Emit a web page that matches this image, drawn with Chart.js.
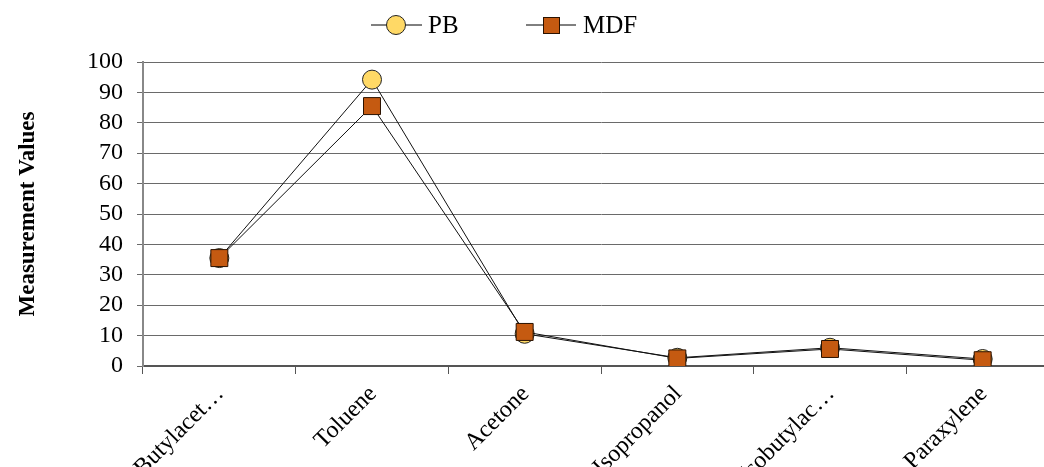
<!DOCTYPE html>
<html>
<head>
<meta charset="utf-8">
<script src="https://cdn.jsdelivr.net/npm/chart.js@4.4.1/dist/chart.umd.min.js"></script>
<style>
  html, body { margin: 0; padding: 0; background: #fff; overflow: hidden; }
  #wrap { position: relative; width: 1080px; height: 467px; }
</style>
</head>
<body>
<div id="wrap"><canvas id="lineChart"></canvas></div>
<script>
const categories = ['nButylacet…', 'Toluene', 'Acetone', 'Isopropanol', 'Isobutylac…', 'Paraxylene'];
const pbValues = [35.5, 94.2, 10.6, 2.7, 6.0, 2.3];
const mdfValues = [35.5, 85.5, 11.2, 2.5, 5.6, 1.9];
const yTicks = [0, 10, 20, 30, 40, 50, 60, 70, 80, 90, 100];

const serif = "'Liberation Serif', 'Times New Roman', serif";
const pbFill = '#FFD966';
const mdfFill = '#C55A11';

// legend drawn by hand so it can sit where the original one is
const legendPlugin = {
  id: 'sideLegend',
  afterDraw(chart) {
    const ctx = chart.ctx;
    ctx.save();
    ctx.strokeStyle = '#000';
    ctx.lineWidth = 1;
    // PB
    ctx.beginPath(); ctx.moveTo(371, 25); ctx.lineTo(422, 25); ctx.stroke();
    ctx.beginPath(); ctx.arc(396, 25, 9.5, 0, Math.PI * 2);
    ctx.fillStyle = pbFill; ctx.fill(); ctx.strokeStyle = '#222'; ctx.stroke();
    // MDF
    ctx.strokeStyle = '#000';
    ctx.beginPath(); ctx.moveTo(526, 25); ctx.lineTo(576, 25); ctx.stroke();
    ctx.fillStyle = mdfFill;
    ctx.fillRect(543, 17, 17, 17);
    ctx.strokeStyle = '#2a1200'; ctx.strokeRect(543.5, 17.5, 16, 16);
    ctx.fillStyle = '#000';
    ctx.font = '25px ' + serif;
    ctx.textBaseline = 'middle';
    ctx.fillText('PB', 428, 26);
    ctx.fillText('MDF', 583, 26);
    ctx.restore();
  }
};

new Chart(document.getElementById('lineChart'), {
  type: 'line',
  data: {
    labels: categories,
    datasets: [
      {
        label: 'PB', data: pbValues, order: 1,
        borderColor: '#111', borderWidth: 1,
        pointStyle: 'circle', pointRadius: 9.5, pointHoverRadius: 9.5,
        pointBackgroundColor: pbFill, pointBorderColor: '#222', pointBorderWidth: 1
      },
      {
        label: 'MDF', data: mdfValues, order: 0,
        borderColor: '#111', borderWidth: 1,
        pointStyle: 'rect', pointRadius: 12, pointHoverRadius: 12,
        pointBackgroundColor: mdfFill, pointBorderColor: '#2a1200', pointBorderWidth: 1
      }
    ]
  },
  options: {
    responsive: true,
    maintainAspectRatio: false,
    animation: false,
    layout: { padding: { top: 62, right: 21, left: 0, bottom: 0 } },
    plugins: { legend: { display: false }, tooltip: { enabled: false } },
    scales: {
      x: {
        offset: true,
        afterFit: (scale) => { scale.height = 101; },
        grid: { offset: true, drawOnChartArea: false, drawTicks: true, tickLength: 8, color: '#555' },
        border: { color: '#555', width: 2 },
        ticks: {
          autoSkip: false, minRotation: 45, maxRotation: 45,
          labelOffset: 1, padding: 6,
          color: '#000', font: { family: serif, size: 24 }
        }
      },
      y: {
        min: 0, max: 100,
        afterFit: (scale) => { scale.width = 143; },
        afterBuildTicks: (scale) => { scale.ticks = yTicks.map(v => ({ value: v })); },
        grid: { color: '#6a6a6a', lineWidth: 1, tickLength: 6 },
        border: { color: '#888', width: 2 },
        ticks: { autoSkip: false, padding: 14, color: '#000', font: { family: serif, size: 24 } },
        title: {
          display: true, text: 'Measurement Values', color: '#000',
          font: { family: serif, size: 23, weight: 'bold' },
          padding: { top: 14, bottom: 0 }
        }
      }
    }
  },
  plugins: [legendPlugin]
});
</script>
</body>
</html>
